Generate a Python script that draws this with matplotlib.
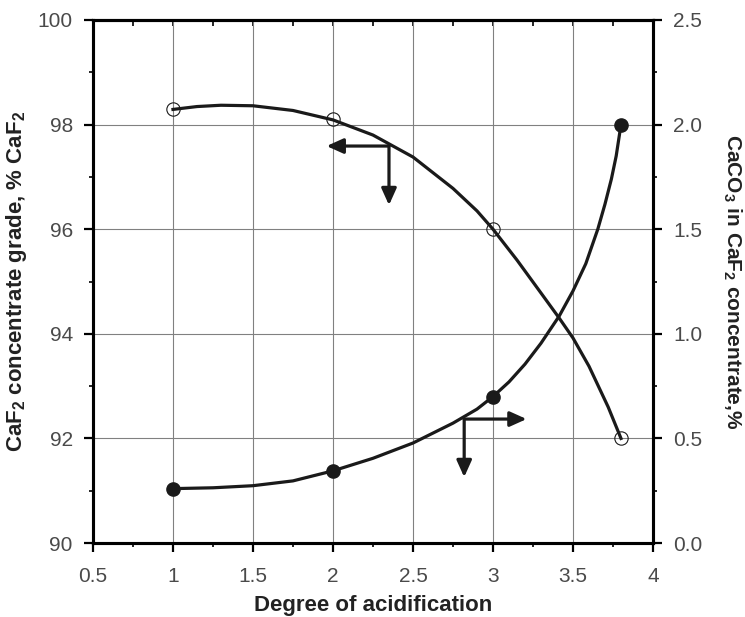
import numpy as np
import matplotlib
matplotlib.use('Agg')
import matplotlib.pyplot as plt
from matplotlib.ticker import MultipleLocator

plt.rcParams['font.family'] = ['Liberation Sans', 'DejaVu Sans']
plt.rcParams['mathtext.fontset'] = 'custom'
plt.rcParams['mathtext.rm'] = 'Liberation Sans'
plt.rcParams['mathtext.bf'] = 'Liberation Sans:bold'

# measured points
acid = np.array([1, 2, 3, 3.8])
grade = np.array([98.3, 98.1, 96.0, 92.0])      # % CaF2 (left axis)
caco3 = np.array([0.26, 0.345, 0.70, 2.0])      # % CaCO3 (right axis)

# fitted curves
grade_fit_x = [1.0, 1.15, 1.3, 1.5, 1.75, 2.0, 2.25, 2.5, 2.75, 2.9, 3.0,
               3.15, 3.3, 3.414, 3.5, 3.6, 3.72, 3.8]
grade_fit_y = [98.29, 98.345, 98.37, 98.36, 98.27, 98.09, 97.8, 97.38, 96.78, 96.35, 96.0,
               95.41, 94.78, 94.3, 93.92, 93.38, 92.6, 92.0]
caco3_fit_x = [1.0, 1.25, 1.5, 1.75, 2.0, 2.25, 2.5, 2.75, 2.9, 3.0, 3.1, 3.2,
               3.3, 3.414, 3.5, 3.58, 3.655, 3.7, 3.74, 3.77, 3.8]
caco3_fit_y = [0.26, 0.264, 0.274, 0.297, 0.345, 0.405, 0.478, 0.573, 0.64, 0.70, 0.77, 0.855,
               0.955, 1.085, 1.205, 1.335, 1.50, 1.62, 1.74, 1.85, 2.0]

fig = plt.figure(figsize=(7.45, 6.17), dpi=100)
ax = fig.add_axes([0.1248, 0.1199, 0.7517, 0.8477])
ax2 = ax.twinx()

tick_col = '#4a4a4a'
for a in (ax, ax2):
    for s in a.spines.values():
        s.set_linewidth(2.2)
    a.tick_params(which='major', length=6.5, width=1.6, labelsize=15, labelcolor=tick_col, pad=8)
    a.tick_params(which='minor', length=3, width=1.2)
ax.tick_params(axis='x', which='major', pad=11)

ax.set_xlim(0.5, 4)
ax.set_ylim(90, 100)
ax2.set_ylim(0, 2.5)
ax.xaxis.set_major_locator(MultipleLocator(0.5))
ax.xaxis.set_minor_locator(MultipleLocator(0.25))
ax.yaxis.set_major_locator(MultipleLocator(2))
ax.yaxis.set_minor_locator(MultipleLocator(1))
ax2.yaxis.set_major_locator(MultipleLocator(0.5))
ax2.yaxis.set_minor_locator(MultipleLocator(0.25))
ax.set_xticks([0.5, 1, 1.5, 2, 2.5, 3, 3.5, 4])
ax.set_xticklabels(['0.5', '1', '1.5', '2', '2.5', '3', '3.5', '4'])
ax2.set_yticks([0, 0.5, 1.0, 1.5, 2.0, 2.5])
ax2.set_yticklabels(['0.0', '0.5', '1.0', '1.5', '2.0', '2.5'])

ax.grid(True, which='major', color='#808080', lw=0.8)
ax.set_axisbelow(True)

top = ax.secondary_xaxis('top')
top.xaxis.set_major_locator(MultipleLocator(0.25))
top.tick_params(direction='in', length=4, width=1.2, labeltop=False)
top.spines['top'].set_linewidth(2.2)

# grade curve and points
ax.plot(grade_fit_x, grade_fit_y, color='#1a1a1a', lw=2.3, zorder=3)
ax.plot(acid, grade, 'o', mfc='none', mec='#1a1a1a', mew=0.8, ms=9.6, zorder=4)

# CaCO3 curve and points
ax2.plot(caco3_fit_x, caco3_fit_y, color='#1a1a1a', lw=2.3, zorder=3)
ax2.plot(acid, caco3, 'o', color='#1a1a1a', ms=9.5, zorder=4)

# arrows pointing to the axes
arr = dict(arrowstyle='-|>,head_width=0.45,head_length=1.0', color='#1a1a1a', lw=2.3,
           shrinkA=0, shrinkB=0)
ax.annotate('', xy=(1.96, 97.59), xytext=(2.35, 97.59), arrowprops=arr)
ax.annotate('', xy=(2.35, 96.46), xytext=(2.35, 97.59), arrowprops=arr)
ax.annotate('', xy=(3.21, 92.37), xytext=(2.82, 92.37), arrowprops=arr)
ax.annotate('', xy=(2.82, 91.26), xytext=(2.82, 92.37), arrowprops=arr)

lab_col = '#222222'
ax.set_xlabel('Degree of acidification', fontsize=16, fontweight='bold', color=lab_col, labelpad=6)
ax.set_ylabel(r'CaF$_\mathbf{2}$ concentrate grade, % CaF$_\mathbf{2}$', fontsize=16,
              fontweight='bold', color=lab_col, labelpad=6)
ax2.set_ylabel(r'CaCO$_\mathbf{3}$ in CaF$_\mathbf{2}$ concentrate,%', fontsize=15,
               fontweight='bold', color=lab_col, rotation=270, labelpad=30)

fig.savefig('out.png', dpi=100)
